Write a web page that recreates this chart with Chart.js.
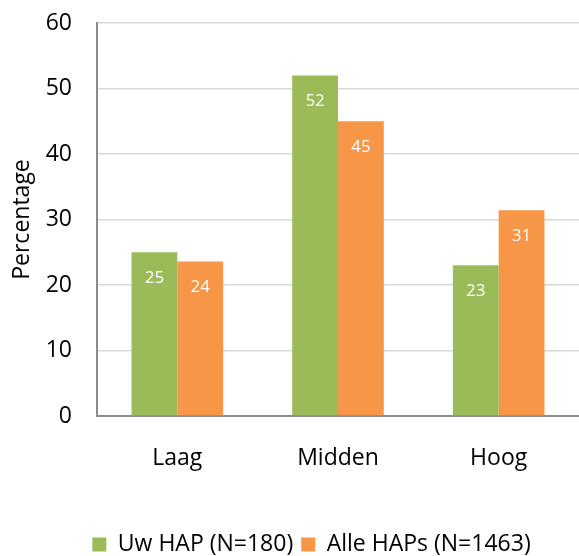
<!DOCTYPE html>
<html>
<head>
<meta charset="utf-8">
<script src="https://cdn.jsdelivr.net/npm/chart.js@4/dist/chart.umd.min.js"></script>
<style>
  body { margin: 0; background: #fff; }
  #wrap { width: 579px; height: 556px; }
</style>
</head>
<body>
<div id="wrap"><canvas id="c" width="579" height="556"></canvas></div>
<script>
const categories = ['Laag', 'Midden', 'Hoog'];
const uwHap = [25, 52, 23];
const alleHaps = [23.6, 45, 31.4];
const seriesNames = ['Uw HAP (N=180)', 'Alle HAPs (N=1463)'];
const yTicks = [0, 10, 20, 30, 40, 50, 60];

const FONT = "'Open Sans', 'Noto Sans', sans-serif";

// white value labels inside the top of each bar
const barLabels = {
  id: 'barLabels',
  afterDatasetsDraw(chart) {
    const ctx = chart.ctx;
    ctx.save();
    ctx.fillStyle = '#fff';
    ctx.font = '17px ' + FONT;
    ctx.textAlign = 'center';
    ctx.textBaseline = 'middle';
    chart.data.datasets.forEach((ds, i) => {
      chart.getDatasetMeta(i).data.forEach((bar, j) => {
        ctx.fillText(Math.round(ds.data[j]), bar.x, bar.y + 26);
      });
    });
    ctx.restore();
  }
};

// nudge the legend a bit right and down, like the original
const legendShift = {
  id: 'legendShift',
  afterLayout(chart) {
    const lg = chart.legend;
    lg.left += 22; lg.right += 22;
    lg.top += 10; lg.bottom += 10;
  }
};

new Chart(document.getElementById('c'), {
  type: 'bar',
  data: {
    labels: categories,
    datasets: [
      { label: seriesNames[0], data: uwHap, backgroundColor: '#9BBB59' },
      { label: seriesNames[1], data: alleHaps, backgroundColor: '#F79646' }
    ]
  },
  options: {
    responsive: false,
    animation: false,
    layout: { padding: { top: 23, right: 0, bottom: 0, left: 0 } },
    datasets: { bar: { categoryPercentage: 0.57, barPercentage: 1 } },
    plugins: {
      tooltip: { enabled: false },
      legend: {
        position: 'bottom',
        labels: {
          boxWidth: 14, boxHeight: 14, padding: 8,
          color: '#000',
          font: { family: FONT, size: 23 }
        }
      }
    },
    scales: {
      x: {
        grid: { display: false },
        border: { color: '#8c8c8c', width: 2 },
        ticks: { color: '#000', padding: 21, font: { family: FONT, size: 23 } },
        afterFit: (s) => { s.height = 99; }
      },
      y: {
        min: 0, max: 60,
        afterBuildTicks: (s) => { s.ticks = yTicks.map(v => ({ value: v })); },
        grid: { color: '#d9d9d9', lineWidth: 1.5, drawTicks: false },
        border: { color: '#8c8c8c', width: 2 },
        ticks: { color: '#000', padding: 25, font: { family: FONT, size: 23 } },
        title: { display: true, text: 'Percentage', color: '#000', font: { family: FONT, size: 23 }, padding: { top: 9, bottom: 0 } },
        afterFit: (s) => { s.width = 97; s.paddingTop = 14; s.paddingBottom = 0; }
      }
    }
  },
  plugins: [barLabels, legendShift]
});
</script>
</body>
</html>
